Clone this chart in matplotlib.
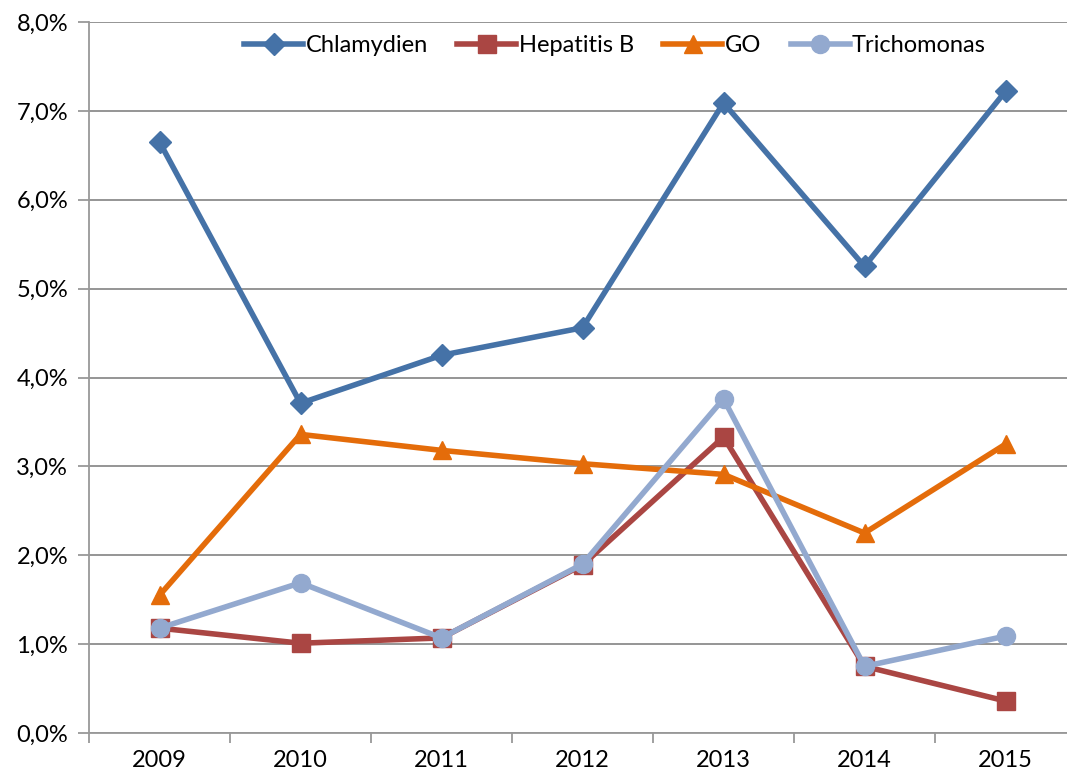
import matplotlib
matplotlib.use("Agg")
import matplotlib.pyplot as plt
from matplotlib.ticker import FuncFormatter, FixedLocator

years = ["2009", "2010", "2011", "2012", "2013", "2014", "2015"]
chlamydien = [6.65, 3.71, 4.25, 4.56, 7.09, 5.25, 7.22]
hepatitis_b = [1.18, 1.01, 1.07, 1.89, 3.33, 0.75, 0.36]
go = [1.55, 3.36, 3.18, 3.03, 2.91, 2.25, 3.25]
trichomonas = [1.18, 1.69, 1.07, 1.90, 3.76, 0.75, 1.09]

plt.rcParams['font.family'] = ['Lato', 'DejaVu Sans']

W, H = 1067, 778
fig = plt.figure(figsize=(W / 100, H / 100), dpi=100)
left, right, top, bottom = 89, 1076, 22, 733
ax = fig.add_axes([left / W, (H - bottom) / H, (right - left) / W, (bottom - top) / H])

x = list(range(len(years)))
series = [
    ("Chlamydien", chlamydien, "#4572A7", "D", 11),
    ("Hepatitis B", hepatitis_b, "#AA4643", "s", 13),
    ("GO", go, "#E46C0A", "^", 13),
    ("Trichomonas", trichomonas, "#93A9CF", "o", 13),
]
for name, vals, col, mk, ms in series:
    ax.plot(x, vals, color=col, lw=4, marker=mk, ms=ms, mec=col, mfc=col,
            label=name, solid_joinstyle="round", clip_on=False, zorder=3)

ax.set_xlim(-0.5, len(years) - 0.5)
ax.set_ylim(0, 8)
ax.set_yticks(range(0, 9))
ax.yaxis.set_major_formatter(FuncFormatter(lambda v, p: f"{v:.1f}%".replace(".", ",")))
ax.set_xticks(x)
ax.set_xticklabels(years)
ax.xaxis.set_minor_locator(FixedLocator([i - 0.5 for i in range(len(years) + 1)]))
ax.tick_params(axis="x", which="major", length=0, pad=12, labelsize=17)
ax.tick_params(axis="x", which="minor", length=7, width=1.3, color="#999999", direction="out")
ax.tick_params(axis="y", length=8, width=1.3, color="#999999", direction="out", pad=7, labelsize=17)

ax.grid(axis="y", color="#8c8c8c", lw=1.3, zorder=0)
for s in ["top", "right"]:
    ax.spines[s].set_visible(False)
for s in ["left", "bottom"]:
    ax.spines[s].set_color("#999999")
    ax.spines[s].set_linewidth(1.3)

leg = ax.legend(loc="upper center", bbox_to_anchor=(0.533, 1.0), ncol=4, frameon=True,
                fontsize=17, handlelength=2.5, columnspacing=1.25, handletextpad=0.1,
                borderaxespad=0.15)
leg.get_frame().set_facecolor("white")
leg.get_frame().set_edgecolor("none")
leg.get_frame().set_alpha(1)

fig.savefig("out.png", dpi=100)
